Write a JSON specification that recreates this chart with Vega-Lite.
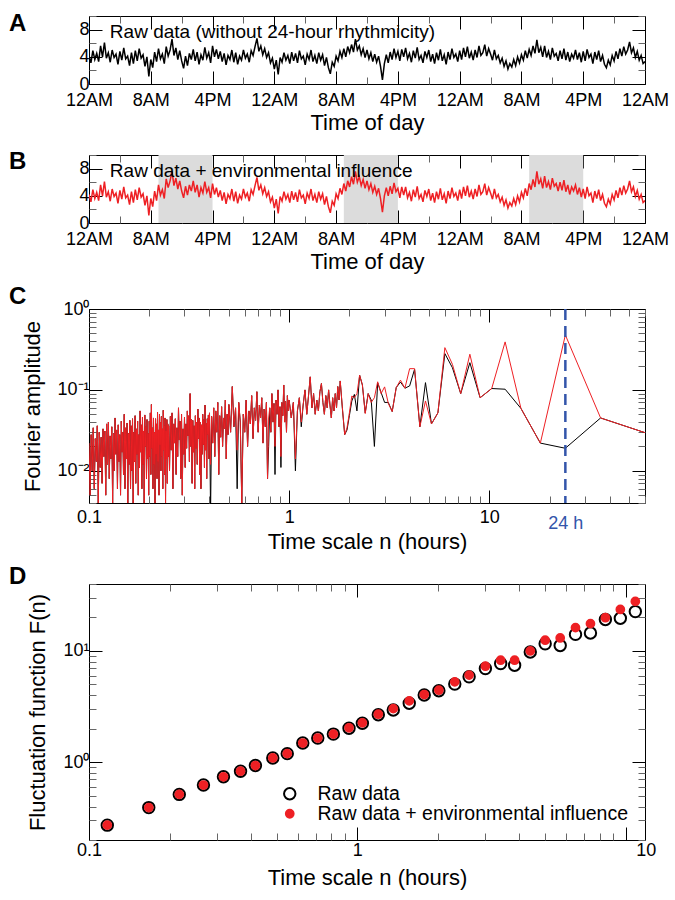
{
  "$schema": "https://vega.github.io/schema/vega-lite/v6.json",
  "padding": {"left": 8, "top": 6, "right": 5, "bottom": 5},
  "spacing": 11,
  "resolve": {"scale": {"fill": "independent", "stroke": "independent", "shape": "independent"}},
  "config": {
    "font": "Liberation Sans",
    "view": {"stroke": "#000", "strokeWidth": 1},
    "axis": {"domain": false, "grid": false, "labelFont": "Liberation Sans", "labelColor": "#000", "labelFontSize": 18, "titleFont": "Liberation Sans", "titleFontWeight": "normal", "titleColor": "#000", "titleFontSize": 22, "tickWidth": 1, "labelFlush": false, "labelOverlap": false, "zindex": 1},
    "title": {"font": "Liberation Sans", "fontSize": 24, "fontWeight": "bold", "anchor": "start", "frame": "group", "color": "#000", "dx": -80, "offset": -14},
    "legend": {"orient": "bottom-right", "title": null, "labelFont": "Liberation Sans", "labelFontSize": 19.5, "labelColor": "#000", "labelLimit": 500, "symbolStrokeWidth": 2, "symbolSize": 130, "labelOffset": 18, "rowPadding": -1, "offset": 16, "padding": 0}
  },
  "datasets": {
    "sh": [{"s": 9, "e": 16}, {"s": 33, "e": 40}, {"s": 57, "e": 64}],
    "ts": [
      {"h":0,"a":4.2,"b":4.2},{"h":0.25,"a":3.1,"b":3.1},{"h":0.5,"a":4.9,"b":4.9},{"h":0.75,"a":3.6,"b":3.6},
      {"h":1,"a":4.5,"b":4.5},{"h":1.25,"a":3.3,"b":3.3},{"h":1.5,"a":5.6,"b":5.6},{"h":1.75,"a":4.0,"b":4.0},
      {"h":2,"a":6.1,"b":6.1},{"h":2.25,"a":3.8,"b":3.8},{"h":2.5,"a":4.6,"b":4.6},{"h":2.75,"a":3.2,"b":3.2},
      {"h":3,"a":5.0,"b":5.0},{"h":3.25,"a":3.9,"b":3.9},{"h":3.5,"a":4.4,"b":4.4},{"h":3.75,"a":2.9,"b":2.9},
      {"h":4,"a":4.8,"b":4.8},{"h":4.25,"a":3.5,"b":3.5},{"h":4.5,"a":5.3,"b":5.3},{"h":4.75,"a":3.7,"b":3.7},
      {"h":5,"a":4.1,"b":4.1},{"h":5.25,"a":2.7,"b":2.7},{"h":5.5,"a":4.6,"b":4.6},{"h":5.75,"a":3.0,"b":3.0},
      {"h":6,"a":4.9,"b":4.9},{"h":6.25,"a":3.4,"b":3.4},{"h":6.5,"a":5.2,"b":5.2},{"h":6.75,"a":3.8,"b":3.8},
      {"h":7,"a":4.3,"b":4.3},{"h":7.25,"a":2.6,"b":2.6},{"h":7.5,"a":4.0,"b":4.0},{"h":7.75,"a":1.1,"b":1.1},
      {"h":8,"a":3.6,"b":3.6},{"h":8.25,"a":2.4,"b":2.4},{"h":8.5,"a":4.7,"b":4.7},{"h":8.75,"a":3.3,"b":3.3},
      {"h":9,"a":5.2,"b":5.6},{"h":9.25,"a":3.7,"b":4.1},{"h":9.5,"a":4.4,"b":4.9},{"h":9.75,"a":3.0,"b":3.6},
      {"h":10,"a":5.5,"b":6.5},{"h":10.25,"a":4.1,"b":5.2},{"h":10.5,"a":5.0,"b":6.2},{"h":10.75,"a":6.6,"b":7.6},
      {"h":11,"a":4.2,"b":5.5},{"h":11.25,"a":5.3,"b":6.6},{"h":11.5,"a":3.6,"b":5.0},{"h":11.75,"a":4.9,"b":6.2},
      {"h":12,"a":3.4,"b":4.7},{"h":12.25,"a":2.3,"b":3.7},{"h":12.5,"a":4.1,"b":5.4},{"h":12.75,"a":2.7,"b":4.1},
      {"h":13,"a":4.5,"b":5.6},{"h":13.25,"a":3.6,"b":4.7},{"h":13.5,"a":5.1,"b":6.2},{"h":13.75,"a":3.4,"b":4.5},
      {"h":14,"a":4.7,"b":5.6},{"h":14.25,"a":2.9,"b":3.8},{"h":14.5,"a":4.3,"b":5.2},{"h":14.75,"a":3.5,"b":4.4},
      {"h":15,"a":5.4,"b":6.1},{"h":15.25,"a":3.8,"b":4.5},{"h":15.5,"a":4.6,"b":5.2},{"h":15.75,"a":3.1,"b":3.7},
      {"h":16,"a":5.6,"b":5.8},{"h":16.25,"a":4.0,"b":4.2},{"h":16.5,"a":5.1,"b":5.2},{"h":16.75,"a":3.7,"b":3.8},
      {"h":17,"a":4.8,"b":4.8},{"h":17.25,"a":3.3,"b":3.3},{"h":17.5,"a":4.5,"b":4.5},{"h":17.75,"a":2.8,"b":2.8},
      {"h":18,"a":4.2,"b":4.2},{"h":18.25,"a":3.6,"b":3.6},{"h":18.5,"a":5.0,"b":5.0},{"h":18.75,"a":3.2,"b":3.2},
      {"h":19,"a":4.6,"b":4.6},{"h":19.25,"a":2.9,"b":2.9},{"h":19.5,"a":4.1,"b":4.1},{"h":19.75,"a":3.5,"b":3.5},
      {"h":20,"a":5.0,"b":5.0},{"h":20.25,"a":3.8,"b":3.8},{"h":20.5,"a":4.4,"b":4.4},{"h":20.75,"a":3.2,"b":3.2},
      {"h":21,"a":4.9,"b":4.9},{"h":21.25,"a":4.2,"b":4.2},{"h":21.5,"a":5.5,"b":5.5},{"h":21.75,"a":6.7,"b":6.7},
      {"h":22,"a":4.8,"b":4.8},{"h":22.25,"a":5.6,"b":5.6},{"h":22.5,"a":4.3,"b":4.3},{"h":22.75,"a":5.2,"b":5.2},
      {"h":23,"a":3.9,"b":3.9},{"h":23.25,"a":4.6,"b":4.6},{"h":23.5,"a":3.1,"b":3.1},{"h":23.75,"a":3.8,"b":3.8},
      {"h":24,"a":2.2,"b":2.2},{"h":24.25,"a":3.5,"b":3.5},{"h":24.5,"a":1.4,"b":1.4},{"h":24.75,"a":3.9,"b":3.9},
      {"h":25,"a":3.2,"b":3.2},{"h":25.25,"a":4.6,"b":4.6},{"h":25.5,"a":3.5,"b":3.5},{"h":25.75,"a":4.2,"b":4.2},
      {"h":26,"a":3.0,"b":3.0},{"h":26.25,"a":4.7,"b":4.7},{"h":26.5,"a":3.4,"b":3.4},{"h":26.75,"a":4.5,"b":4.5},
      {"h":27,"a":3.1,"b":3.1},{"h":27.25,"a":4.9,"b":4.9},{"h":27.5,"a":3.7,"b":3.7},{"h":27.75,"a":4.1,"b":4.1},
      {"h":28,"a":2.8,"b":2.8},{"h":28.25,"a":4.4,"b":4.4},{"h":28.5,"a":3.6,"b":3.6},{"h":28.75,"a":5.0,"b":5.0},
      {"h":29,"a":3.3,"b":3.3},{"h":29.25,"a":4.2,"b":4.2},{"h":29.5,"a":3.0,"b":3.0},{"h":29.75,"a":4.6,"b":4.6},
      {"h":30,"a":3.5,"b":3.5},{"h":30.25,"a":4.3,"b":4.3},{"h":30.5,"a":2.7,"b":2.7},{"h":30.75,"a":3.9,"b":3.9},
      {"h":31,"a":2.4,"b":2.4},{"h":31.25,"a":1.5,"b":1.5},{"h":31.5,"a":3.2,"b":3.2},{"h":31.75,"a":2.6,"b":2.6},
      {"h":32,"a":4.1,"b":4.3},{"h":32.25,"a":3.4,"b":3.6},{"h":32.5,"a":4.8,"b":5.1},{"h":32.75,"a":3.9,"b":4.2},
      {"h":33,"a":5.2,"b":5.8},{"h":33.25,"a":4.0,"b":4.7},{"h":33.5,"a":5.5,"b":6.2},{"h":33.75,"a":4.6,"b":5.3},
      {"h":34,"a":5.8,"b":6.8},{"h":34.25,"a":4.7,"b":5.7},{"h":34.5,"a":6.6,"b":7.6},{"h":34.75,"a":5.0,"b":6.0},
      {"h":35,"a":5.6,"b":6.8},{"h":35.25,"a":4.3,"b":5.5},{"h":35.5,"a":5.2,"b":6.4},{"h":35.75,"a":3.9,"b":5.1},
      {"h":36,"a":5.0,"b":6.2},{"h":36.25,"a":3.7,"b":4.9},{"h":36.5,"a":4.6,"b":5.8},{"h":36.75,"a":3.3,"b":4.5},
      {"h":37,"a":4.4,"b":5.4},{"h":37.25,"a":3.2,"b":4.2},{"h":37.5,"a":4.1,"b":5.1},{"h":37.75,"a":2.6,"b":3.6},
      {"h":38,"a":0.6,"b":1.6},{"h":38.25,"a":3.0,"b":4.0},{"h":38.5,"a":4.3,"b":5.2},{"h":38.75,"a":3.1,"b":4.0},
      {"h":39,"a":4.7,"b":5.4},{"h":39.25,"a":3.6,"b":4.3},{"h":39.5,"a":5.2,"b":5.9},{"h":39.75,"a":3.9,"b":4.6},
      {"h":40,"a":4.8,"b":5.1},{"h":40.25,"a":3.4,"b":3.7},{"h":40.5,"a":5.1,"b":5.3},{"h":40.75,"a":4.0,"b":4.1},
      {"h":41,"a":5.3,"b":5.3},{"h":41.25,"a":3.7,"b":3.7},{"h":41.5,"a":4.5,"b":4.5},{"h":41.75,"a":3.2,"b":3.2},
      {"h":42,"a":4.9,"b":4.9},{"h":42.25,"a":3.8,"b":3.8},{"h":42.5,"a":5.4,"b":5.4},{"h":42.75,"a":3.6,"b":3.6},
      {"h":43,"a":4.2,"b":4.2},{"h":43.25,"a":3.1,"b":3.1},{"h":43.5,"a":4.8,"b":4.8},{"h":43.75,"a":3.9,"b":3.9},
      {"h":44,"a":5.0,"b":5.0},{"h":44.25,"a":3.3,"b":3.3},{"h":44.5,"a":4.4,"b":4.4},{"h":44.75,"a":3.0,"b":3.0},
      {"h":45,"a":4.6,"b":4.6},{"h":45.25,"a":3.5,"b":3.5},{"h":45.5,"a":5.1,"b":5.1},{"h":45.75,"a":3.4,"b":3.4},
      {"h":46,"a":4.3,"b":4.3},{"h":46.25,"a":2.9,"b":2.9},{"h":46.5,"a":4.7,"b":4.7},{"h":46.75,"a":3.6,"b":3.6},
      {"h":47,"a":5.2,"b":5.2},{"h":47.25,"a":3.9,"b":3.9},{"h":47.5,"a":4.4,"b":4.4},{"h":47.75,"a":3.3,"b":3.3},
      {"h":48,"a":4.9,"b":4.9},{"h":48.25,"a":3.6,"b":3.6},{"h":48.5,"a":5.3,"b":5.3},{"h":48.75,"a":4.0,"b":4.0},
      {"h":49,"a":5.5,"b":5.5},{"h":49.25,"a":3.8,"b":3.8},{"h":49.5,"a":4.7,"b":4.7},{"h":49.75,"a":3.5,"b":3.5},
      {"h":50,"a":5.0,"b":5.0},{"h":50.25,"a":3.9,"b":3.9},{"h":50.5,"a":5.6,"b":5.6},{"h":50.75,"a":4.2,"b":4.2},
      {"h":51,"a":4.6,"b":4.6},{"h":51.25,"a":5.8,"b":5.8},{"h":51.5,"a":4.1,"b":4.1},{"h":51.75,"a":5.2,"b":5.2},
      {"h":52,"a":4.4,"b":4.4},{"h":52.25,"a":3.5,"b":3.5},{"h":52.5,"a":5.0,"b":5.0},{"h":52.75,"a":3.7,"b":3.7},
      {"h":53,"a":4.2,"b":4.2},{"h":53.25,"a":3.1,"b":3.1},{"h":53.5,"a":3.8,"b":3.8},{"h":53.75,"a":2.6,"b":2.6},
      {"h":54,"a":3.4,"b":3.4},{"h":54.25,"a":2.2,"b":2.2},{"h":54.5,"a":3.0,"b":3.0},{"h":54.75,"a":2.5,"b":2.5},
      {"h":55,"a":3.6,"b":3.6},{"h":55.25,"a":2.7,"b":2.7},{"h":55.5,"a":4.0,"b":4.0},{"h":55.75,"a":3.1,"b":3.1},
      {"h":56,"a":4.3,"b":4.5},{"h":56.25,"a":3.5,"b":3.7},{"h":56.5,"a":4.9,"b":5.1},{"h":56.75,"a":3.8,"b":4.0},
      {"h":57,"a":5.1,"b":5.8},{"h":57.25,"a":4.2,"b":4.9},{"h":57.5,"a":5.6,"b":6.4},{"h":57.75,"a":4.5,"b":5.3},
      {"h":58,"a":6.5,"b":7.6},{"h":58.25,"a":4.6,"b":5.7},{"h":58.5,"a":5.4,"b":6.5},{"h":58.75,"a":4.0,"b":5.1},
      {"h":59,"a":5.6,"b":6.9},{"h":59.25,"a":3.9,"b":5.2},{"h":59.5,"a":4.8,"b":6.1},{"h":59.75,"a":3.6,"b":4.9},
      {"h":60,"a":5.3,"b":6.6},{"h":60.25,"a":4.1,"b":5.4},{"h":60.5,"a":4.5,"b":5.8},{"h":60.75,"a":3.4,"b":4.7},
      {"h":61,"a":4.9,"b":6.0},{"h":61.25,"a":3.7,"b":4.8},{"h":61.5,"a":5.2,"b":6.3},{"h":61.75,"a":3.5,"b":4.6},
      {"h":62,"a":4.7,"b":5.6},{"h":62.25,"a":3.3,"b":4.2},{"h":62.5,"a":4.4,"b":5.3},{"h":62.75,"a":3.8,"b":4.7},
      {"h":63,"a":5.0,"b":5.6},{"h":63.25,"a":3.6,"b":4.2},{"h":63.5,"a":4.6,"b":5.2},{"h":63.75,"a":3.2,"b":3.8},
      {"h":64,"a":4.8,"b":5.0},{"h":64.25,"a":3.4,"b":3.6},{"h":64.5,"a":5.1,"b":5.3},{"h":64.75,"a":3.9,"b":4.0},
      {"h":65,"a":4.4,"b":4.4},{"h":65.25,"a":3.0,"b":3.0},{"h":65.5,"a":4.7,"b":4.7},{"h":65.75,"a":3.6,"b":3.6},
      {"h":66,"a":4.9,"b":4.9},{"h":66.25,"a":3.3,"b":3.3},{"h":66.5,"a":4.2,"b":4.2},{"h":66.75,"a":2.9,"b":2.9},
      {"h":67,"a":2.4,"b":2.4},{"h":67.25,"a":3.5,"b":3.5},{"h":67.5,"a":2.8,"b":2.8},{"h":67.75,"a":4.2,"b":4.2},
      {"h":68,"a":3.4,"b":3.4},{"h":68.25,"a":4.8,"b":4.8},{"h":68.5,"a":3.7,"b":3.7},{"h":68.75,"a":5.2,"b":5.2},
      {"h":69,"a":4.1,"b":4.1},{"h":69.25,"a":5.5,"b":5.5},{"h":69.5,"a":4.4,"b":4.4},{"h":69.75,"a":5.0,"b":5.0},
      {"h":70,"a":6.2,"b":6.2},{"h":70.25,"a":4.6,"b":4.6},{"h":70.5,"a":5.3,"b":5.3},{"h":70.75,"a":3.9,"b":3.9},
      {"h":71,"a":4.8,"b":4.8},{"h":71.25,"a":3.5,"b":3.5},{"h":71.5,"a":4.2,"b":4.2},{"h":71.75,"a":3.0,"b":3.0},
      {"h":72,"a":3.3,"b":3.3}
    ],
    "ft": [
      {"p":0.1,"a":0.022,"b":0.022},{"p":0.10125,"a":0.005,"b":0.005},{"p":0.1025,"a":0.028,"b":0.028},{"p":0.10375,"a":0.01,"b":0.01},
      {"p":0.105,"a":0.034,"b":0.034},{"p":0.10625,"a":0.006,"b":0.006},{"p":0.1075,"a":0.025,"b":0.025},{"p":0.10875,"a":0.013,"b":0.013},
      {"p":0.11,"a":0.036,"b":0.036},{"p":0.11125,"a":0.004,"b":0.004},{"p":0.1125,"a":0.03,"b":0.03},{"p":0.11375,"a":0.011,"b":0.011},
      {"p":0.115,"a":0.026,"b":0.026},{"p":0.11625,"a":0.007,"b":0.007},{"p":0.1175,"a":0.033,"b":0.033},{"p":0.11875,"a":0.015,"b":0.015},
      {"p":0.12,"a":0.031,"b":0.031},{"p":0.12125,"a":0.005,"b":0.005},{"p":0.1225,"a":0.038,"b":0.038},{"p":0.12375,"a":0.012,"b":0.012},
      {"p":0.125,"a":0.04,"b":0.04},{"p":0.12625,"a":0.008,"b":0.008},{"p":0.1275,"a":0.027,"b":0.027},{"p":0.12875,"a":0.014,"b":0.014},
      {"p":0.13,"a":0.035,"b":0.035},{"p":0.13125,"a":0.004,"b":0.004},{"p":0.1325,"a":0.029,"b":0.029},{"p":0.13375,"a":0.01,"b":0.01},
      {"p":0.135,"a":0.045,"b":0.045},{"p":0.13625,"a":0.016,"b":0.016},{"p":0.1375,"a":0.032,"b":0.032},{"p":0.13875,"a":0.006,"b":0.006},
      {"p":0.14,"a":0.037,"b":0.037},{"p":0.14125,"a":0.013,"b":0.013},{"p":0.1425,"a":0.028,"b":0.028},{"p":0.14375,"a":0.005,"b":0.005},
      {"p":0.145,"a":0.041,"b":0.041},{"p":0.14625,"a":0.017,"b":0.017},{"p":0.1475,"a":0.03,"b":0.03},{"p":0.14875,"a":0.009,"b":0.009},
      {"p":0.15,"a":0.05,"b":0.05},{"p":0.15125,"a":0.006,"b":0.006},{"p":0.1525,"a":0.034,"b":0.034},{"p":0.15375,"a":0.014,"b":0.014},
      {"p":0.155,"a":0.039,"b":0.039},{"p":0.15625,"a":0.004,"b":0.004},{"p":0.1575,"a":0.029,"b":0.029},{"p":0.15875,"a":0.012,"b":0.012},
      {"p":0.16,"a":0.042,"b":0.042},
      {"p":0.16125,"a":0.006,"b":0.006},{"p":0.1625,"a":0.036,"b":0.036},{"p":0.16375,"a":0.01,"b":0.01},{"p":0.165,"a":0.044,"b":0.044},
      {"p":0.16625,"a":0.004,"b":0.004},{"p":0.1675,"a":0.03,"b":0.03},{"p":0.16875,"a":0.013,"b":0.013},{"p":0.17,"a":0.048,"b":0.048},
      {"p":0.17125,"a":0.007,"b":0.007},{"p":0.1725,"a":0.033,"b":0.033},{"p":0.17375,"a":0.016,"b":0.016},{"p":0.175,"a":0.041,"b":0.041},
      {"p":0.17625,"a":0.005,"b":0.005},{"p":0.1775,"a":0.028,"b":0.028},{"p":0.17875,"a":0.011,"b":0.011},{"p":0.18,"a":0.055,"b":0.055},
      {"p":0.18125,"a":0.017,"b":0.017},{"p":0.1825,"a":0.037,"b":0.037},{"p":0.18375,"a":0.006,"b":0.006},{"p":0.185,"a":0.046,"b":0.046},
      {"p":0.18625,"a":0.012,"b":0.012},{"p":0.1875,"a":0.031,"b":0.031},{"p":0.18875,"a":0.004,"b":0.004},{"p":0.19,"a":0.049,"b":0.049},
      {"p":0.19125,"a":0.02,"b":0.02},{"p":0.1925,"a":0.035,"b":0.035},{"p":0.19375,"a":0.008,"b":0.008},{"p":0.195,"a":0.043,"b":0.043},
      {"p":0.19625,"a":0.014,"b":0.014},{"p":0.1975,"a":0.029,"b":0.029},{"p":0.19875,"a":0.005,"b":0.005},{"p":0.2,"a":0.041,"b":0.041},
      {"p":0.20125,"a":0.015,"b":0.015},{"p":0.2025,"a":0.052,"b":0.052},{"p":0.20375,"a":0.009,"b":0.009},{"p":0.205,"a":0.066,"b":0.066},
      {"p":0.20625,"a":0.019,"b":0.019},{"p":0.2075,"a":0.034,"b":0.034},{"p":0.20875,"a":0.006,"b":0.006},{"p":0.21,"a":0.045,"b":0.045},
      {"p":0.21125,"a":0.012,"b":0.012},{"p":0.2125,"a":0.03,"b":0.03},{"p":0.21375,"a":0.004,"b":0.004},{"p":0.215,"a":0.044,"b":0.044},
      {"p":0.21625,"a":0.016,"b":0.016},{"p":0.2175,"a":0.038,"b":0.038},{"p":0.21875,"a":0.008,"b":0.008},{"p":0.22,"a":0.053,"b":0.053},
      {"p":0.22125,"a":0.013,"b":0.013},{"p":0.2225,"a":0.032,"b":0.032},{"p":0.22375,"a":0.005,"b":0.005},{"p":0.225,"a":0.05,"b":0.05},
      {"p":0.22625,"a":0.021,"b":0.021},{"p":0.2275,"a":0.04,"b":0.04},{"p":0.22875,"a":0.01,"b":0.01},{"p":0.23,"a":0.047,"b":0.047},
      {"p":0.23125,"a":0.015,"b":0.015},{"p":0.2325,"a":0.033,"b":0.033},{"p":0.23375,"a":0.006,"b":0.006},{"p":0.235,"a":0.056,"b":0.056},
      {"p":0.23625,"a":0.018,"b":0.018},{"p":0.2375,"a":0.036,"b":0.036},{"p":0.23875,"a":0.009,"b":0.009},{"p":0.24,"a":0.045,"b":0.045},
      {"p":0.24125,"a":0.004,"b":0.004},{"p":0.2425,"a":0.031,"b":0.031},{"p":0.24375,"a":0.014,"b":0.014},{"p":0.245,"a":0.043,"b":0.043},
      {"p":0.24625,"a":0.007,"b":0.007},{"p":0.2475,"a":0.038,"b":0.038},{"p":0.24875,"a":0.015,"b":0.015},{"p":0.25,"a":0.036,"b":0.036},
      {"p":0.2525,"a":0.01,"b":0.01},{"p":0.255,"a":0.047,"b":0.047},{"p":0.2575,"a":0.018,"b":0.018},{"p":0.26,"a":0.052,"b":0.052},
      {"p":0.2625,"a":0.006,"b":0.006},{"p":0.265,"a":0.038,"b":0.038},{"p":0.2675,"a":0.022,"b":0.022},{"p":0.27,"a":0.044,"b":0.044},
      {"p":0.2725,"a":0.009,"b":0.009},{"p":0.275,"a":0.034,"b":0.034},{"p":0.2775,"a":0.015,"b":0.015},{"p":0.28,"a":0.06,"b":0.06},
      {"p":0.2825,"a":0.024,"b":0.024},{"p":0.285,"a":0.041,"b":0.041},{"p":0.2875,"a":0.008,"b":0.008},{"p":0.29,"a":0.05,"b":0.05},
      {"p":0.2925,"a":0.005,"b":0.005},{"p":0.295,"a":0.033,"b":0.033},{"p":0.2975,"a":0.016,"b":0.016},{"p":0.3,"a":0.046,"b":0.046},
      {"p":0.3025,"a":0.011,"b":0.011},{"p":0.305,"a":0.038,"b":0.038},{"p":0.3075,"a":0.019,"b":0.019},{"p":0.31,"a":0.055,"b":0.055},
      {"p":0.3125,"a":0.027,"b":0.027},{"p":0.315,"a":0.048,"b":0.048},{"p":0.3175,"a":0.013,"b":0.013},{"p":0.32,"a":0.09,"b":0.09},
      {"p":0.3225,"a":0.02,"b":0.02},{"p":0.325,"a":0.043,"b":0.043},{"p":0.3275,"a":0.007,"b":0.007},{"p":0.33,"a":0.042,"b":0.042},
      {"p":0.3325,"a":0.017,"b":0.017},{"p":0.335,"a":0.036,"b":0.036},{"p":0.3375,"a":0.006,"b":0.006},{"p":0.34,"a":0.048,"b":0.048},
      {"p":0.3425,"a":0.019,"b":0.019},{"p":0.345,"a":0.04,"b":0.04},{"p":0.3475,"a":0.012,"b":0.012},{"p":0.35,"a":0.058,"b":0.058},
      {"p":0.3525,"a":0.025,"b":0.025},{"p":0.355,"a":0.045,"b":0.045},{"p":0.3575,"a":0.009,"b":0.009},{"p":0.36,"a":0.04,"b":0.04},
      {"p":0.3625,"a":0.006,"b":0.006},{"p":0.365,"a":0.037,"b":0.037},{"p":0.3675,"a":0.016,"b":0.016},{"p":0.37,"a":0.05,"b":0.05},
      {"p":0.3725,"a":0.021,"b":0.021},{"p":0.375,"a":0.043,"b":0.043},{"p":0.3775,"a":0.011,"b":0.011},{"p":0.38,"a":0.065,"b":0.065},
      {"p":0.3825,"a":0.018,"b":0.018},{"p":0.385,"a":0.039,"b":0.039},{"p":0.3875,"a":0.008,"b":0.008},{"p":0.39,"a":0.044,"b":0.044},
      {"p":0.3925,"a":0.028,"b":0.028},{"p":0.395,"a":0.049,"b":0.049},{"p":0.3975,"a":0.014,"b":0.014},{"p":0.4,"a":0.052,"b":0.052},
      {"p":0.405,"a":0.003,"b":0.012},{"p":0.41,"a":0.047,"b":0.047},
      {"p":0.415,"a":0.022,"b":0.022},{"p":0.42,"a":0.06,"b":0.06},{"p":0.425,"a":0.015,"b":0.015},{"p":0.43,"a":0.055,"b":0.055},
      {"p":0.435,"a":0.03,"b":0.03},{"p":0.44,"a":0.07,"b":0.07},{"p":0.445,"a":0.009,"b":0.009},{"p":0.45,"a":0.048,"b":0.048},
      {"p":0.455,"a":0.026,"b":0.026},{"p":0.46,"a":0.062,"b":0.062},{"p":0.465,"a":0.02,"b":0.02},{"p":0.47,"a":0.045,"b":0.045},
      {"p":0.475,"a":0.033,"b":0.033},{"p":0.48,"a":0.075,"b":0.075},{"p":0.485,"a":0.014,"b":0.014},{"p":0.49,"a":0.05,"b":0.05},
      {"p":0.495,"a":0.028,"b":0.028},{"p":0.5,"a":0.066,"b":0.066},
      {"p":0.51,"a":0.03,"b":0.03},{"p":0.52,"a":0.11,"b":0.11},{"p":0.53,"a":0.035,"b":0.035},{"p":0.54,"a":0.06,"b":0.06},
      {"p":0.55,"a":0.006,"b":0.018},{"p":0.56,"a":0.07,"b":0.07},{"p":0.57,"a":0.04,"b":0.04},{"p":0.58,"a":0.004,"b":0.004},
      {"p":0.59,"a":0.05,"b":0.05},{"p":0.6,"a":0.03,"b":0.03},{"p":0.61,"a":0.075,"b":0.075},{"p":0.62,"a":0.02,"b":0.02},
      {"p":0.63,"a":0.055,"b":0.055},{"p":0.64,"a":0.038,"b":0.038},{"p":0.65,"a":0.085,"b":0.085},{"p":0.66,"a":0.025,"b":0.025},
      {"p":0.67,"a":0.06,"b":0.06},{"p":0.68,"a":0.042,"b":0.042},{"p":0.69,"a":0.095,"b":0.095},{"p":0.7,"a":0.03,"b":0.03},
      {"p":0.71,"a":0.065,"b":0.065},{"p":0.72,"a":0.045,"b":0.045},{"p":0.73,"a":0.08,"b":0.08},{"p":0.74,"a":0.022,"b":0.022},
      {"p":0.75,"a":0.058,"b":0.058},{"p":0.76,"a":0.035,"b":0.035},{"p":0.77,"a":0.07,"b":0.07},{"p":0.78,"a":0.008,"b":0.008},
      {"p":0.79,"a":0.02,"b":0.045},{"p":0.8,"a":0.06,"b":0.06},{"p":0.81,"a":0.03,"b":0.03},{"p":0.82,"a":0.09,"b":0.09},
      {"p":0.83,"a":0.04,"b":0.04},{"p":0.84,"a":0.068,"b":0.068},{"p":0.85,"a":0.009,"b":0.02},{"p":0.86,"a":0.075,"b":0.075},
      {"p":0.87,"a":0.05,"b":0.05},{"p":0.88,"a":0.1,"b":0.1},{"p":0.89,"a":0.035,"b":0.035},{"p":0.9,"a":0.062,"b":0.062},
      {"p":0.91,"a":0.011,"b":0.015},{"p":0.92,"a":0.07,"b":0.07},{"p":0.93,"a":0.048,"b":0.048},{"p":0.94,"a":0.115,"b":0.115},
      {"p":0.95,"a":0.04,"b":0.04},{"p":0.96,"a":0.072,"b":0.072},{"p":0.97,"a":0.03,"b":0.03},{"p":0.98,"a":0.085,"b":0.085},
      {"p":0.99,"a":0.055,"b":0.055},{"p":1.0,"a":0.075,"b":0.075},
      {"p":1.025,"a":0.045,"b":0.045},{"p":1.05,"a":0.07,"b":0.07},{"p":1.075,"a":0.01,"b":0.014},{"p":1.1,"a":0.055,"b":0.055},
      {"p":1.125,"a":0.08,"b":0.08},{"p":1.15,"a":0.035,"b":0.04},{"p":1.175,"a":0.065,"b":0.065},{"p":1.2,"a":0.1,"b":0.1},
      {"p":1.225,"a":0.05,"b":0.05},{"p":1.25,"a":0.085,"b":0.085},{"p":1.275,"a":0.145,"b":0.145},{"p":1.3,"a":0.06,"b":0.06},
      {"p":1.325,"a":0.09,"b":0.09},{"p":1.35,"a":0.05,"b":0.05},{"p":1.375,"a":0.075,"b":0.075},{"p":1.4,"a":0.055,"b":0.055},
      {"p":1.425,"a":0.095,"b":0.095},{"p":1.45,"a":0.12,"b":0.12},{"p":1.475,"a":0.07,"b":0.07},{"p":1.5,"a":0.05,"b":0.05},
      {"p":1.525,"a":0.085,"b":0.085},{"p":1.55,"a":0.06,"b":0.06},{"p":1.575,"a":0.1,"b":0.1},{"p":1.6,"a":0.065,"b":0.065},
      {"p":1.625,"a":0.045,"b":0.045},{"p":1.65,"a":0.08,"b":0.08},{"p":1.675,"a":0.055,"b":0.055},{"p":1.7,"a":0.09,"b":0.09},
      {"p":1.725,"a":0.06,"b":0.06},{"p":1.75,"a":0.11,"b":0.11},{"p":1.775,"a":0.075,"b":0.075},
      {"p":1.8,"a":0.129,"b":0.129},{"p":1.846,"a":0.058,"b":0.06},{"p":1.895,"a":0.028,"b":0.028},{"p":1.946,"a":0.032,"b":0.034},
      {"p":2.0,"a":0.048,"b":0.052},{"p":2.057,"a":0.073,"b":0.084},{"p":2.118,"a":0.088,"b":0.08},{"p":2.182,"a":0.055,"b":0.09},
      {"p":2.25,"a":0.152,"b":0.152},{"p":2.323,"a":0.115,"b":0.115},{"p":2.4,"a":0.052,"b":0.051},{"p":2.483,"a":0.09,"b":0.09},
      {"p":2.571,"a":0.075,"b":0.07},{"p":2.667,"a":0.02,"b":0.08},{"p":2.769,"a":0.122,"b":0.126},{"p":2.88,"a":0.093,"b":0.09},
      {"p":3.0,"a":0.07,"b":0.109},{"p":3.13,"a":0.07,"b":0.068},{"p":3.273,"a":0.054,"b":0.054},{"p":3.429,"a":0.107,"b":0.107},
      {"p":3.6,"a":0.125,"b":0.132},{"p":3.789,"a":0.105,"b":0.105},{"p":4.0,"a":0.112,"b":0.183},{"p":4.235,"a":0.18,"b":0.183},
      {"p":4.5,"a":0.035,"b":0.035},{"p":4.8,"a":0.123,"b":0.073},{"p":5.143,"a":0.038,"b":0.038},{"p":5.538,"a":0.052,"b":0.052},
      {"p":6.0,"a":0.281,"b":0.333},{"p":6.545,"a":0.188,"b":0.207},{"p":7.2,"a":0.09,"b":0.09},{"p":8.0,"a":0.217,"b":0.276},
      {"p":9.0,"a":0.08,"b":0.08},{"p":10.286,"a":0.104,"b":0.104},{"p":12.0,"a":0.102,"b":0.392},{"p":14.4,"a":0.059,"b":0.059},
      {"p":18.0,"a":0.022,"b":0.022},{"p":24.0,"a":0.019,"b":0.477},{"p":36.0,"a":0.045,"b":0.045},{"p":72.0,"a":0.0255,"b":0.0255}
    ],
    "df": [
      {"n":0.117,"raw":0.272,"env":0.272},{"n":0.167,"raw":0.391,"env":0.391},{"n":0.217,"raw":0.514,"env":0.514},
      {"n":0.267,"raw":0.624,"env":0.624},{"n":0.317,"raw":0.74,"env":0.74},{"n":0.367,"raw":0.831,"env":0.831},
      {"n":0.417,"raw":0.934,"env":0.934},{"n":0.484,"raw":1.093,"env":1.093},{"n":0.548,"raw":1.195,"env":1.195},
      {"n":0.626,"raw":1.488,"env":1.488},{"n":0.712,"raw":1.649,"env":1.649},{"n":0.814,"raw":1.79,"env":1.79},
      {"n":0.931,"raw":2.02,"env":2.04},{"n":1.044,"raw":2.24,"env":2.26},{"n":1.197,"raw":2.67,"env":2.7},
      {"n":1.361,"raw":2.95,"env":3.03},{"n":1.561,"raw":3.39,"env":3.56},{"n":1.775,"raw":4.02,"env":4.06},
      {"n":2.012,"raw":4.39,"env":4.44},{"n":2.307,"raw":5.04,"env":5.28},{"n":2.609,"raw":5.86,"env":6.07},
      {"n":3.0,"raw":6.95,"env":7.3},{"n":3.42,"raw":7.7,"env":8.26},{"n":3.855,"raw":7.45,"env":8.26},
      {"n":4.41,"raw":9.8,"env":10.0},{"n":5.01,"raw":11.6,"env":12.5},{"n":5.7,"raw":11.2,"env":13.1},
      {"n":6.5,"raw":14.1,"env":16.2},{"n":7.39,"raw":14.5,"env":17.6},{"n":8.4,"raw":19.2,"env":19.9},
      {"n":9.55,"raw":19.7,"env":23.6},{"n":10.86,"raw":22.6,"env":27.9}
    ]
  },
  "vconcat": [
    {
      "width": 556, "height": 68,
      "title": {"text": "A", "dy": 15},
      "layer": [
        {
          "data": {"name": "ts"},
          "mark": {"type": "line", "color": "#000", "strokeWidth": 1.5, "clip": true},
          "encoding": {
            "x": {"field": "h", "type": "quantitative", "scale": {"domain": [0, 72], "nice": false, "zero": false},
              "axis": {"orient": "bottom", "values": [0,4,8,12,16,20,24,28,32,36,40,44,48,52,56,60,64,68,72],
                "labelExpr": "datum.value % 24 == 0 ? '12AM' : (datum.value % 24 == 8 ? '8AM' : (datum.value % 24 == 16 ? '4PM' : ''))",
                "tickSize": {"condition": {"test": "datum.value % 8 == 0", "value": -13}, "value": -7},
                "tickColor": {"condition": {"test": "datum.value % 8 == 0", "value": "#000"}, "value": "#666"},
                "labelPadding": 20, "title": "Time of day", "titlePadding": -3}},
            "y": {"field": "a", "type": "quantitative", "scale": {"domain": [0, 10], "nice": false, "zero": false},
              "axis": {"orient": "left", "values": [0,2,4,6,8,10],
                "labelExpr": "datum.value % 4 == 0 ? datum.label : ''",
                "tickSize": {"condition": {"test": "datum.value % 4 == 0", "value": -13}, "value": -7},
                "tickColor": {"condition": {"test": "datum.value % 4 == 0", "value": "#000"}, "value": "#666"},
                "labelPadding": 13, "title": null}}
          }
        },
        {
          "data": {"values": [{}]},
          "mark": {"type": "text", "align": "left", "baseline": "middle", "fontSize": 19, "font": "Liberation Sans", "color": "#000"},
          "encoding": {
            "x": {"datum": 2.7, "type": "quantitative",
              "axis": {"orient": "top", "values": [0,4,8,12,16,20,24,28,32,36,40,44,48,52,56,60,64,68,72], "labels": false, "title": null,
                "tickSize": {"condition": {"test": "datum.value % 8 == 0", "value": -13}, "value": -7},
                "tickColor": {"condition": {"test": "datum.value % 8 == 0", "value": "#000"}, "value": "#666"}}},
            "y": {"datum": 7.7, "type": "quantitative",
              "axis": {"orient": "right", "values": [0,2,4,6,8,10], "labels": false, "title": null,
                "tickSize": {"condition": {"test": "datum.value % 4 == 0", "value": -13}, "value": -7},
                "tickColor": {"condition": {"test": "datum.value % 4 == 0", "value": "#000"}, "value": "#666"}}},
            "text": {"value": "Raw data (without 24-hour rhythmicity)"}
          }
        }
      ],
      "resolve": {"axis": {"x": "independent", "y": "independent"}}
    },
    {
      "width": 556, "height": 68,
      "title": {"text": "B", "dy": 14},
      "layer": [
        {
          "data": {"name": "sh"},
          "mark": {"type": "rect", "color": "#dcdcdc"},
          "encoding": {
            "x": {"field": "s", "type": "quantitative", "scale": {"domain": [0, 72], "nice": false, "zero": false},
              "axis": {"orient": "bottom", "values": [0,4,8,12,16,20,24,28,32,36,40,44,48,52,56,60,64,68,72],
                "labelExpr": "datum.value % 24 == 0 ? '12AM' : (datum.value % 24 == 8 ? '8AM' : (datum.value % 24 == 16 ? '4PM' : ''))",
                "tickSize": {"condition": {"test": "datum.value % 8 == 0", "value": -13}, "value": -7},
                "tickColor": {"condition": {"test": "datum.value % 8 == 0", "value": "#000"}, "value": "#666"},
                "labelPadding": 20, "title": "Time of day", "titlePadding": -3}},
            "x2": {"field": "e"}
          }
        },
        {
          "data": {"name": "ts"},
          "mark": {"type": "line", "color": "#ee2024", "strokeWidth": 1.5, "clip": true},
          "encoding": {
            "x": {"field": "h", "type": "quantitative", "axis": null},
            "y": {"field": "b", "type": "quantitative", "scale": {"domain": [0, 10], "nice": false, "zero": false},
              "axis": {"orient": "left", "values": [0,2,4,6,8,10],
                "labelExpr": "datum.value % 4 == 0 ? datum.label : ''",
                "tickSize": {"condition": {"test": "datum.value % 4 == 0", "value": -13}, "value": -7},
                "tickColor": {"condition": {"test": "datum.value % 4 == 0", "value": "#000"}, "value": "#666"},
                "labelPadding": 13, "title": null}}
          }
        },
        {
          "data": {"values": [{}]},
          "mark": {"type": "text", "align": "left", "baseline": "middle", "fontSize": 19, "font": "Liberation Sans", "color": "#000"},
          "encoding": {
            "x": {"datum": 2.7, "type": "quantitative",
              "axis": {"orient": "top", "values": [0,4,8,12,16,20,24,28,32,36,40,44,48,52,56,60,64,68,72], "labels": false, "title": null,
                "tickSize": {"condition": {"test": "datum.value % 8 == 0", "value": -13}, "value": -7},
                "tickColor": {"condition": {"test": "datum.value % 8 == 0", "value": "#000"}, "value": "#666"}}},
            "y": {"datum": 7.7, "type": "quantitative",
              "axis": {"orient": "right", "values": [0,2,4,6,8,10], "labels": false, "title": null,
                "tickSize": {"condition": {"test": "datum.value % 4 == 0", "value": -13}, "value": -7},
                "tickColor": {"condition": {"test": "datum.value % 4 == 0", "value": "#000"}, "value": "#666"}}},
            "text": {"value": "Raw data + environmental influence"}
          }
        }
      ],
      "resolve": {"axis": {"x": "independent", "y": "independent"}}
    },
    {
      "width": 556, "height": 194,
      "title": {"text": "C", "dy": -5},
      "data": {"name": "ft"},
      "layer": [
        {
          "mark": {"type": "line", "color": "#000", "strokeWidth": 1, "clip": true},
          "encoding": {
            "x": {"field": "p", "type": "quantitative", "scale": {"type": "log", "domain": [0.1, 60], "nice": false},
              "axis": {"orient": "bottom", "values": [0.1,0.2,0.3,0.4,0.5,0.6,0.7,0.8,0.9,1,2,3,4,5,6,7,8,9,10,20,24,30,40,50,60],
                "labelExpr": "datum.value == 0.1 ? '0.1' : (datum.value == 1 ? '1' : (datum.value == 10 ? '10' : (datum.value == 24 ? '24 h' : '')))",
                "labelColor": {"condition": {"test": "datum.value == 24", "value": "#3355aa"}, "value": "#000"},
                "tickSize": {"condition": {"test": "datum.value == 0.1 || datum.value == 1 || datum.value == 10", "value": -13}, "value": -7},
                "tickColor": {"condition": {"test": "datum.value == 0.1 || datum.value == 1 || datum.value == 10", "value": "#000"}, "value": "#666"},
                "tickOpacity": {"condition": {"test": "datum.value == 24", "value": 0}, "value": 1},
                "labelPadding": 18, "title": "Time scale n (hours)", "titlePadding": -1}},
            "y": {"field": "a", "type": "quantitative", "scale": {"type": "log", "domain": [0.004, 1], "nice": false},
              "axis": {"orient": "left", "values": [0.004,0.005,0.006,0.007,0.008,0.009,0.01,0.02,0.03,0.04,0.05,0.06,0.07,0.08,0.09,0.1,0.2,0.3,0.4,0.5,0.6,0.7,0.8,0.9,1],
                "labelExpr": "datum.value == 1 ? '10⁰' : (datum.value == 0.1 ? '10⁻¹' : (datum.value == 0.01 ? '10⁻²' : ''))",
                "tickSize": {"condition": {"test": "datum.value == 1 || datum.value == 0.1 || datum.value == 0.01", "value": -13}, "value": -7},
                "tickColor": {"condition": {"test": "datum.value == 1 || datum.value == 0.1 || datum.value == 0.01", "value": "#000"}, "value": "#666"},
                "labelPadding": 13, "title": "Fourier amplitude", "titlePadding": 12}}
          }
        },
        {
          "mark": {"type": "line", "color": "#ee2024", "strokeWidth": 1, "clip": true},
          "encoding": {
            "x": {"field": "p", "type": "quantitative",
              "axis": {"orient": "top", "values": [0.1,0.2,0.3,0.4,0.5,0.6,0.7,0.8,0.9,1,2,3,4,5,6,7,8,9,10,20,30,40,50,60], "labels": false, "title": null,
                "tickSize": {"condition": {"test": "datum.value == 0.1 || datum.value == 1 || datum.value == 10", "value": -13}, "value": -7},
                "tickColor": {"condition": {"test": "datum.value == 0.1 || datum.value == 1 || datum.value == 10", "value": "#000"}, "value": "#666"}}},
            "y": {"field": "b", "type": "quantitative",
              "axis": {"orient": "right", "values": [0.004,0.005,0.006,0.007,0.008,0.009,0.01,0.02,0.03,0.04,0.05,0.06,0.07,0.08,0.09,0.1,0.2,0.3,0.4,0.5,0.6,0.7,0.8,0.9,1], "labels": false, "title": null,
                "tickSize": {"condition": {"test": "datum.value == 1 || datum.value == 0.1 || datum.value == 0.01", "value": -13}, "value": -7},
                "tickColor": {"condition": {"test": "datum.value == 1 || datum.value == 0.1 || datum.value == 0.01", "value": "#000"}, "value": "#666"}}}
          }
        },
        {
          "data": {"values": [{}]},
          "mark": {"type": "rule", "color": "#3355aa", "strokeWidth": 2.5, "strokeDash": [11, 6]},
          "encoding": {"x": {"datum": 24, "type": "quantitative", "axis": null}}
        }
      ],
      "resolve": {"axis": {"x": "independent", "y": "independent"}}
    },
    {
      "width": 556, "height": 256,
      "title": {"text": "D", "dy": 0},
      "data": {"name": "df"},
      "layer": [
        {
          "mark": {"type": "point", "strokeWidth": 2, "opacity": 1, "size": 130},
          "encoding": {
            "x": {"field": "n", "type": "quantitative", "scale": {"type": "log", "domain": [0.1, 11.8], "nice": false},
              "axis": {"orient": "bottom", "values": [0.1,0.2,0.3,0.4,0.5,0.6,0.7,0.8,0.9,1,2,3,4,5,6,7,8,9,10],
                "labelExpr": "datum.value == 0.1 ? '0.1' : (datum.value == 1 ? '1' : (datum.value == 10 ? '10' : ''))",
                "labelOffset": {"condition": {"test": "datum.value == 10", "value": 20}, "value": 0},
                "tickSize": {"condition": {"test": "datum.value == 0.1 || datum.value == 1 || datum.value == 10", "value": -13}, "value": -7},
                "tickColor": {"condition": {"test": "datum.value == 0.1 || datum.value == 1 || datum.value == 10", "value": "#000"}, "value": "#666"},
                "labelPadding": 14, "title": "Time scale n (hours)", "titlePadding": 2}},
            "y": {"field": "raw", "type": "quantitative", "scale": {"type": "log", "domain": [0.2, 40], "nice": false},
              "axis": {"orient": "left", "values": [0.2,0.3,0.4,0.5,0.6,0.7,0.8,0.9,1,2,3,4,5,6,7,8,9,10,20,30,40],
                "labelExpr": "datum.value == 1 ? '10⁰' : (datum.value == 10 ? '10¹' : '')",
                "tickSize": {"condition": {"test": "datum.value == 1 || datum.value == 10", "value": -13}, "value": -7},
                "tickColor": {"condition": {"test": "datum.value == 1 || datum.value == 10", "value": "#000"}, "value": "#666"},
                "labelPadding": 13, "title": "Fluctuation function F(n)", "titlePadding": 13}},
            "fill": {"datum": "Raw data", "type": "nominal", "scale": {"domain": ["Raw data", "Raw data + environmental influence"], "range": ["transparent", "#ee2024"]}},
            "stroke": {"datum": "Raw data", "type": "nominal", "scale": {"domain": ["Raw data", "Raw data + environmental influence"], "range": ["#000000", "#ee2024"]}},
            "shape": {"datum": "Raw data", "type": "nominal", "scale": {"domain": ["Raw data", "Raw data + environmental influence"], "range": ["circle", "M-0.68,0A0.68,0.68 0 1,0 0.68,0A0.68,0.68 0 1,0 -0.68,0Z"]}}
          }
        },
        {
          "mark": {"type": "point", "strokeWidth": 2, "opacity": 1, "size": 130},
          "encoding": {
            "x": {"field": "n", "type": "quantitative",
              "axis": {"orient": "top", "values": [0.1,0.2,0.3,0.4,0.5,0.6,0.7,0.8,0.9,1,2,3,4,5,6,7,8,9,10], "labels": false, "title": null,
                "tickSize": {"condition": {"test": "datum.value == 0.1 || datum.value == 1 || datum.value == 10", "value": -13}, "value": -7},
                "tickColor": {"condition": {"test": "datum.value == 0.1 || datum.value == 1 || datum.value == 10", "value": "#000"}, "value": "#666"}}},
            "y": {"field": "env", "type": "quantitative",
              "axis": {"orient": "right", "values": [0.2,0.3,0.4,0.5,0.6,0.7,0.8,0.9,1,2,3,4,5,6,7,8,9,10,20,30,40], "labels": false, "title": null,
                "tickSize": {"condition": {"test": "datum.value == 1 || datum.value == 10", "value": -13}, "value": -7},
                "tickColor": {"condition": {"test": "datum.value == 1 || datum.value == 10", "value": "#000"}, "value": "#666"}}},
            "fill": {"datum": "Raw data + environmental influence", "type": "nominal"},
            "stroke": {"datum": "Raw data + environmental influence", "type": "nominal"},
            "shape": {"datum": "Raw data + environmental influence", "type": "nominal"}
          }
        }
      ],
      "resolve": {"axis": {"x": "independent", "y": "independent"}}
    }
  ]
}
